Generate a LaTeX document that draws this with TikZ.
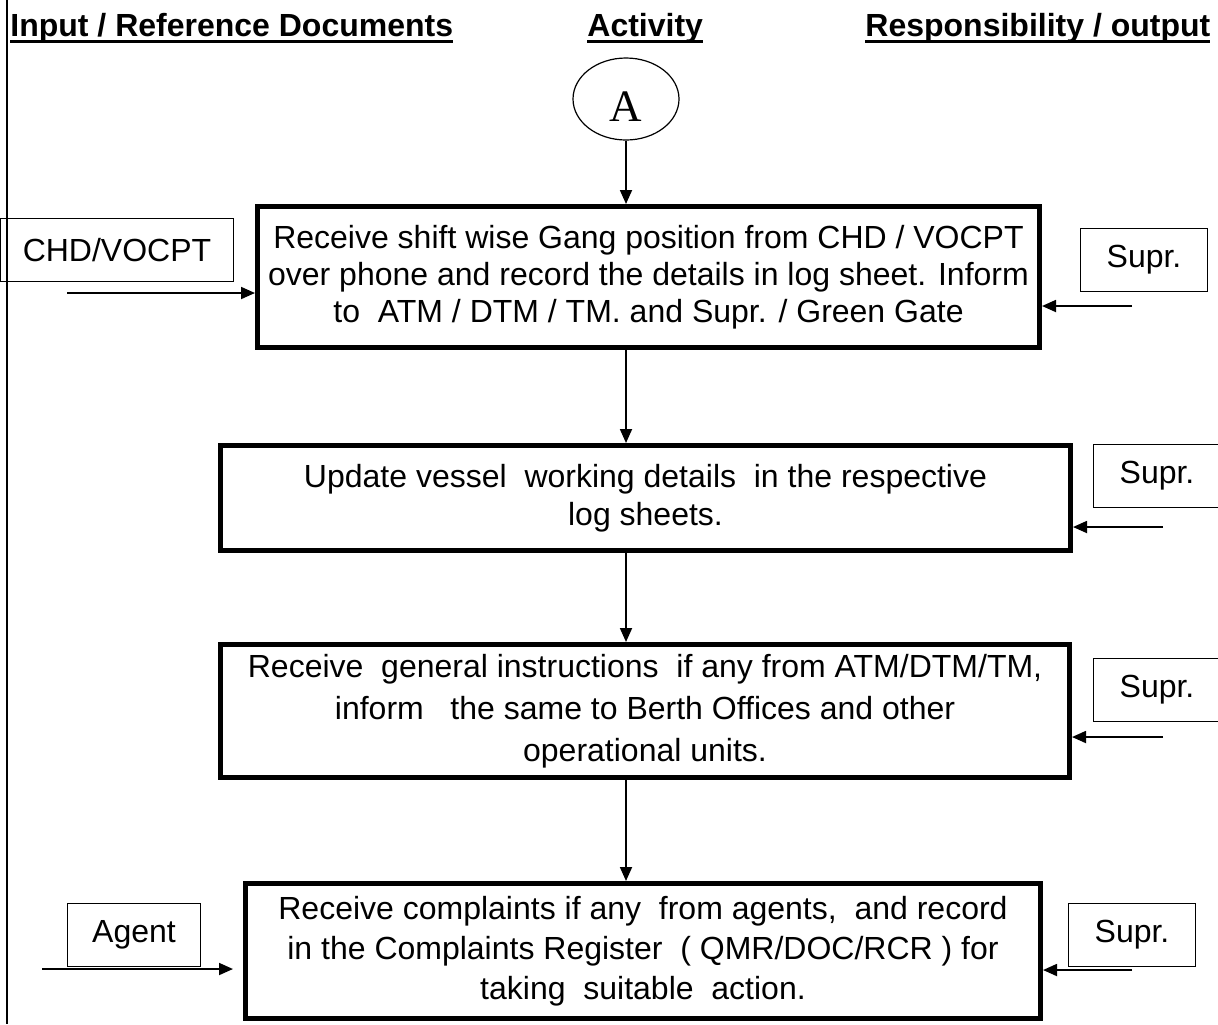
\documentclass[tikz,border=0pt]{standalone}
\usepackage{fontspec}
\setmainfont{Liberation Sans}
\newfontfamily\serifA{Liberation Serif}
\usetikzlibrary{arrows.meta,positioning,shapes.geometric}
\newcommand{\hdul}[1]{\vtop{\hbox{#1}\kern-1.2pt\hrule height 1.4pt}}
\newcommand{\actfont}{\fontsize{16}{18.5}\selectfont}
\tikzset{
  actbox/.style={draw,line width=2.5pt,align=center,inner sep=0pt,font=\actfont},
  sidebox/.style={draw,line width=0.8pt,inner sep=0pt,minimum width=63.5pt,minimum height=31.5pt,font=\actfont},
  head/.style={anchor=base west,inner sep=0pt,font=\bfseries\fontsize{16}{18}\selectfont},
  ar/.style={-{Triangle[length=7pt,width=6pt]},line width=0.9pt},
}

\begin{document}
\begin{tikzpicture}[x=0.5pt,y=-0.5pt]
  \useasboundingbox (0,0) rectangle (1218,1024);
  \draw[line width=0.8pt] (7,0) -- (7,1024);
  \node[head] (hin) at (10,36) {\hdul{Input / Reference Documents}};
  \node[head] (hact) at (587,36) {\hdul{Activity}};
  \node[head] (hout) at (865,36) {\hdul{Responsibility / output}};

  \node[draw,ellipse,line width=0.6pt,minimum width=53pt,minimum height=41pt,inner sep=0pt,
        text height=22pt,text depth=0pt,font=\serifA\fontsize{22.5}{22.5}\selectfont] (A) at (626,99) {A};

  \node[actbox,minimum width=391pt,minimum height=70.5pt] (b1) at (648.5,277)
       {Receive shift wise Gang position from CHD / VOCPT\\
        over phone and record the details in log sheet. Inform\\
        to\ \ ATM / DTM / TM. and Supr. / Green Gate};
  \node[actbox,minimum width=425pt,minimum height=52.5pt,font=\fontsize{16}{19}\selectfont] (b2) at (645.5,498)
       {Update vessel\ \ working details\ \ in the respective\\ log sheets.};
  \node[actbox,minimum width=424.5pt,minimum height=66.5pt,font=\fontsize{16}{21}\selectfont] (b3) at (645,711)
       {Receive\ \ general instructions\ \ if any from ATM/DTM/TM,\\
        inform\ \ \ the same to Berth Offices and other\\
        operational units.};
  \node[actbox,minimum width=397.5pt,minimum height=67.5pt,font=\fontsize{16}{20}\selectfont] (b4) at (643,951)
       {Receive complaints if any\ \ from agents,\ \ and record\\
        in the Complaints Register\ \ ( QMR/DOC/RCR ) for\\
        taking\ \ suitable\ \ action.};

  \node[sidebox,minimum width=116.5pt] (chd) at (117,250) {CHD/VOCPT};
  \node[sidebox,minimum width=66.5pt] (agent) at (134,935) {Agent};
  \node[sidebox] (s1) at (1144,260) {Supr.};
  \node[sidebox] (s2) at (1157,476) {Supr.};
  \node[sidebox] (s3) at (1157,690) {Supr.};
  \node[sidebox] (s4) at (1132,935) {Supr.};

  \draw[ar] (A) -- (A |- b1.north);
  \draw[ar] (b1.south -| A) -- (A |- b2.north);
  \draw[ar] (b2.south -| A) -- (A |- b3.north);
  \draw[ar] (b3.south -| A) -- (A |- b4.north);

  \coordinate (chdtail) at (67,293);
  \coordinate (agtail) at (42,969);
  \coordinate (s1tail) at (1132,306);
  \coordinate (s2tail) at (1163,527);
  \coordinate (s3tail) at (1163,737);
  \coordinate (s4tail) at (1132,970);
  \draw[ar] (chdtail) -- (chdtail -| b1.west);
  \draw[ar,shorten >=5pt] (agtail) -- (agtail -| b4.west);
  \draw[ar] (s1tail) -- (s1tail -| b1.east);
  \draw[ar] (s2tail) -- (s2tail -| b2.east);
  \draw[ar] (s3tail) -- (s3tail -| b3.east);
  \draw[ar] (s4tail) -- (s4tail -| b4.east);
\end{tikzpicture}
\end{document}
